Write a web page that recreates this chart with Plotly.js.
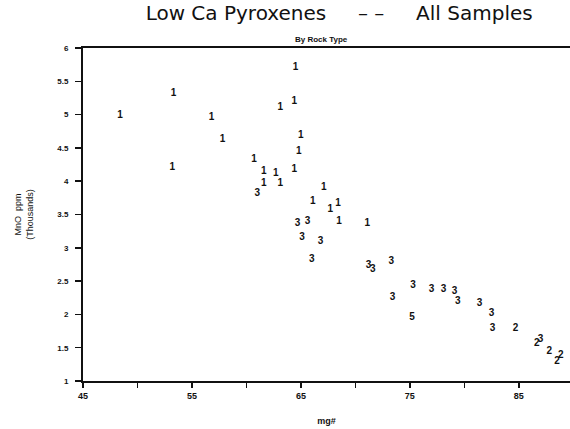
<!DOCTYPE html>
<html>
<head>
<meta charset="utf-8">
<script src="https://cdn.plot.ly/plotly-3.0.1.min.js"></script>
<style>html,body{margin:0;padding:0;background:#fff;}#chart{width:570px;height:429px;}</style>
</head>
<body>
<div id="chart"></div>
<script>
// Rock type 1
const x1 = [48.4, 53.3, 53.2, 56.8, 57.8, 60.7, 61.6, 61.6, 62.7, 63.1, 63.1, 64.4, 64.5, 65.0, 64.8, 64.4, 67.1, 66.1, 67.7, 68.4, 68.5, 71.1];
const y1 = [4.98, 5.31, 4.21, 4.95, 4.63, 4.33, 4.14, 3.97, 4.11, 3.97, 5.10, 5.19, 5.70, 4.69, 4.44, 4.17, 3.90, 3.69, 3.58, 3.67, 3.40, 3.36];
// Rock type 2
const x2 = [84.7, 86.65, 87.8, 88.5, 88.85];
const y2 = [1.79, 1.56, 1.45, 1.29, 1.38];
// Rock type 3
const x3 = [61.0, 64.7, 65.6, 65.1, 66.8, 66.0, 71.2, 71.6, 73.3, 75.3, 73.4, 77.0, 78.1, 79.1, 79.4, 81.4, 82.5, 82.6, 87.0];
const y3 = [3.82, 3.36, 3.40, 3.16, 3.10, 2.83, 2.74, 2.67, 2.79, 2.44, 2.25, 2.38, 2.38, 2.35, 2.20, 2.17, 2.01, 1.79, 1.63];
// Rock type 5
const x5 = [75.2];
const y5 = [1.96];

const xTickVals = [45, 50, 55, 60, 65, 70, 75, 80, 85];
const xTickText = ['45', '', '55', '', '65', '', '75', '', '85'];
const yTickVals = [1, 1.5, 2, 2.5, 3, 3.5, 4, 4.5, 5, 5.5, 6];
const yTickText = ['1', '1.5', '2', '2.5', '3', '3.5', '4', '4.5', '5', '5.5', '6'];

const markFont = {family: 'Liberation Sans, Arial, sans-serif', size: 10, color: '#111', weight: 'bold'};
function series(xs, ys, label) {
  return {
    x: xs, y: ys, mode: 'text', type: 'scatter',
    text: xs.map(() => label), textposition: 'middle center',
    textfont: markFont, hoverinfo: 'x+y', showlegend: false, cliponaxis: false
  };
}

const data = [series(x1, y1, '1'), series(x2, y2, '2'), series(x3, y3, '3'), series(x5, y5, '5')];

const layout = {
  width: 570, height: 429,
  margin: {l: 83, r: 0, t: 48, b: 48},
  paper_bgcolor: '#fff', plot_bgcolor: '#fff',
  title: {text: 'Low Ca Pyroxenes &nbsp;&nbsp;&nbsp;&nbsp;– – &nbsp;&nbsp;&nbsp;&nbsp;All Samples', x: 0.595, xanchor: 'center', y: 0.985, yanchor: 'top',
          font: {family: 'DejaVu Sans, sans-serif', size: 20, color: '#111'}},
  xaxis: {
    range: [45, 89.7], showgrid: false, zeroline: false,
    showline: true, linecolor: '#111', linewidth: 2, mirror: true,
    tickmode: 'array', tickvals: xTickVals, ticktext: xTickText,
    ticks: 'outside', ticklen: 5, tickwidth: 1.5, tickcolor: '#111',
    tickfont: {family: 'Liberation Sans, Arial, sans-serif', size: 9, color: '#111', weight: 'bold'},
    title: {text: 'mg#', standoff: 18, font: {family: 'Liberation Sans, Arial, sans-serif', size: 9, color: '#111', weight: 'bold'}}
  },
  yaxis: {
    range: [1, 6], showgrid: false, zeroline: false,
    showline: true, linecolor: '#111', linewidth: 2, mirror: false,
    tickmode: 'array', tickvals: yTickVals, ticktext: yTickText,
    ticks: 'outside', ticklen: 6, tickwidth: 1.5, tickcolor: '#111', ticklabelstandoff: 5,
    tickfont: {family: 'Liberation Sans, Arial, sans-serif', size: 8, color: '#111', weight: 'bold'},
    title: {text: 'MnO &nbsp;ppm<br>(Thousands)', standoff: 22, font: {family: 'Liberation Sans, Arial, sans-serif', size: 9, color: '#111'}}
  },
  annotations: [{
    text: 'By Rock Type', xref: 'paper', yref: 'paper', x: 0.49, y: 1.0, yanchor: 'bottom', xanchor: 'center', yshift: 2,
    showarrow: false, font: {family: 'Liberation Sans, Arial, sans-serif', size: 8, color: '#111', weight: 'bold'}
  }]
};

Plotly.newPlot('chart', data, layout, {displayModeBar: false, staticPlot: true});
</script>
</body>
</html>
